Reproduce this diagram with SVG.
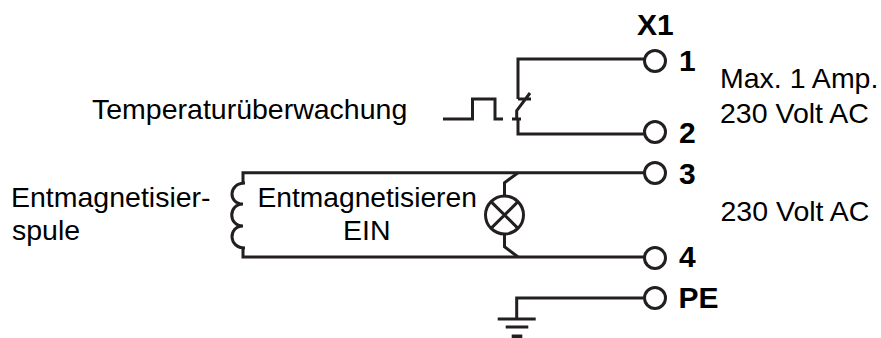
<svg xmlns="http://www.w3.org/2000/svg" width="881" height="338" viewBox="0 0 881 338">
<style>
text{font-family:"Liberation Sans",Arial,sans-serif;fill:#000}
.t{font-size:28.500px}
.b{font-size:30px;font-weight:bold}
.w{fill:none;stroke:#231f20;stroke-width:3}
.c{fill:#fff;stroke:#231f20;stroke-width:3}
</style>
<rect width="881" height="338" fill="#fff"/>
<g id="connectors">
<path class="w" d="M518 99V59H645"/>
<path class="w" d="M518 119V134H645"/>
<path class="w" d="M243 183V172.700H645"/>
<path class="w" d="M243 248V257H645"/>
<path class="w" d="M518 172.700L504.500 182.700V195"/>
<path class="w" d="M504.500 235V246.700L518 257"/>
<path class="w" d="M643 298H516.700V319"/>
</g>
<g id="coil"><path class="w" d="M245 183C228 183 228 204 243 204C228 204 228 226 243 226C228 226 228 248 245 248"/></g>
<g id="pulse"><path class="w" d="M443 119H472.500V99H495V119H503"/></g>
<g id="switch"><path class="w" d="M518 99H531M530 93L516.700 110.700V119M512 119H521"/></g>
<g id="lamp"><circle class="c" cx="504.500" cy="215" r="19"/><path class="w" d="M491 201.600L518 228.400M518 201.600L491 228.400"/></g>
<g id="ground"><path class="w" d="M497.700 319H535.700M505.700 327H528.300"/><path d="M511.700 334.500H522.300V338H511.700Z" fill="#231f20"/></g>
<g id="terminal-1"><circle class="c" cx="655" cy="61" r="10.500"/><text class="b" x="679" y="70.700">1</text></g>
<g id="terminal-2"><circle class="c" cx="655" cy="132" r="10.500"/><text class="b" x="679" y="142.700">2</text></g>
<g id="terminal-3"><circle class="c" cx="655" cy="173" r="10.500"/><text class="b" x="679" y="184">3</text></g>
<g id="terminal-4"><circle class="c" cx="655" cy="258" r="10.500"/><text class="b" x="679" y="267.300">4</text></g>
<g id="terminal-PE"><circle class="c" cx="655" cy="298" r="10.500"/><text class="b" x="678.500" y="308.300">PE</text></g>
<g id="labels">
<text class="b" x="637" y="35">X1</text>
<text class="t" x="92" y="118.500">Temperaturüberwachung</text>
<text class="t" x="720" y="88">Max. 1 Amp.</text>
<text class="t" x="720" y="122.700">230 Volt AC</text>
<text class="t" x="720.500" y="221">230 Volt AC</text>
<text class="t" x="11" y="207">Entmagnetisier-</text>
<text class="t" x="12" y="240">spule</text>
<text class="t" x="257.500" y="207" style="font-size:28.200px">Entmagnetisieren</text>
<text class="t" x="343" y="240">EIN</text>
</g>
</svg>
